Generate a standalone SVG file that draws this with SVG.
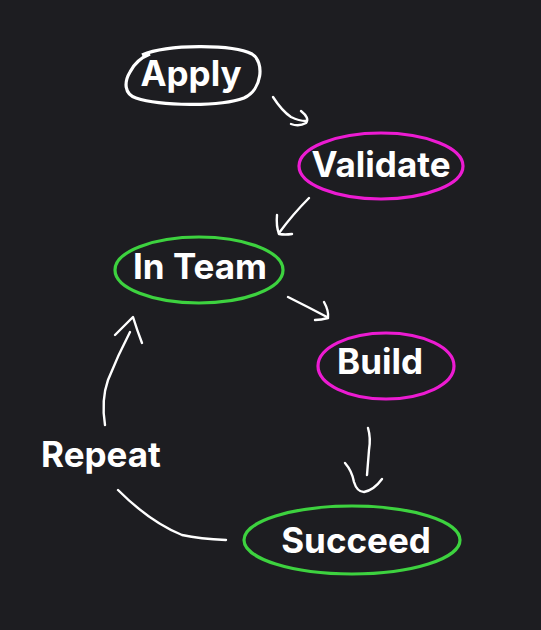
<svg xmlns="http://www.w3.org/2000/svg" width="541" height="630" viewBox="0 0 541 630">
  <style>
    .lbl { font-family: Inter, "Liberation Sans", sans-serif; font-weight: 700; font-size: 35px; fill: #ffffff; text-anchor: middle; }
    .ring { fill: none; stroke-width: 3.2; }
    .white { stroke: #ffffff; }
    .pink { stroke: #ec1bd2; }
    .green { stroke: #3dd23f; }
    .conn path { fill: none; stroke: #ffffff; stroke-width: 2.4; stroke-linecap: round; stroke-linejoin: round; }
  </style>
  <rect width="541" height="630" fill="#1d1d21"/>

  <g id="apply">
    <path class="ring white" d="M142,55 C168,44 232,44 252,54 C265,62 262,90 244,98 C220,107 160,106 136,98 C124,94 124,82 130,72 C134,64 140,58 150,54"/>
    <text class="lbl" x="191" y="86">Apply</text>
  </g>

  <g id="validate">
    <ellipse class="ring pink" cx="381" cy="166" rx="82" ry="33"/>
    <text class="lbl" x="381" y="177">Validate</text>
  </g>

  <g id="in-team">
    <ellipse class="ring green" cx="199" cy="270" rx="84" ry="33"/>
    <text class="lbl" x="200" y="279">In Team</text>
  </g>

  <g id="build">
    <ellipse class="ring pink" cx="386" cy="366" rx="68" ry="33"/>
    <text class="lbl" x="380" y="374">Build</text>
  </g>

  <g id="succeed">
    <ellipse class="ring green" cx="352" cy="540" rx="108" ry="34"/>
    <text class="lbl" x="356" y="553">Succeed</text>
  </g>

  <g id="repeat">
    <text class="lbl" x="101" y="467">Repeat</text>
  </g>

  <g class="conn" id="connectors">
    <!-- Apply to Validate -->
    <path d="M273,97 Q282,111 291,117 Q299,121 306,121"/>
    <path d="M301,111 Q310,118 306,123 Q299,127 291,124"/>
    <!-- Validate to In Team -->
    <path d="M309,198 Q293,214 279,233"/>
    <path d="M277,215 Q276,226 279,234 Q285,235 292,234"/>
    <!-- In Team to Build -->
    <path d="M288,297 Q308,307 327,317"/>
    <path d="M324,302 Q329,311 328,318 Q321,320 315,320"/>
    <!-- Build to Succeed -->
    <path d="M368,428 Q371,438 369,450 Q368,462 367,475"/>
    <path d="M345,463 Q352,471 354,482 Q357,492 364,492 Q374,490 382,479"/>
    <!-- Succeed to Repeat -->
    <path d="M226,540 Q200,539 182,535 Q150,522 118,490"/>
    <!-- Repeat to In Team -->
    <path d="M105,425 Q101,400 108,380 Q118,355 130,332"/>
    <path d="M115,335 Q125,325 133,317 Q137,330 142,343"/>
  </g>
</svg>
